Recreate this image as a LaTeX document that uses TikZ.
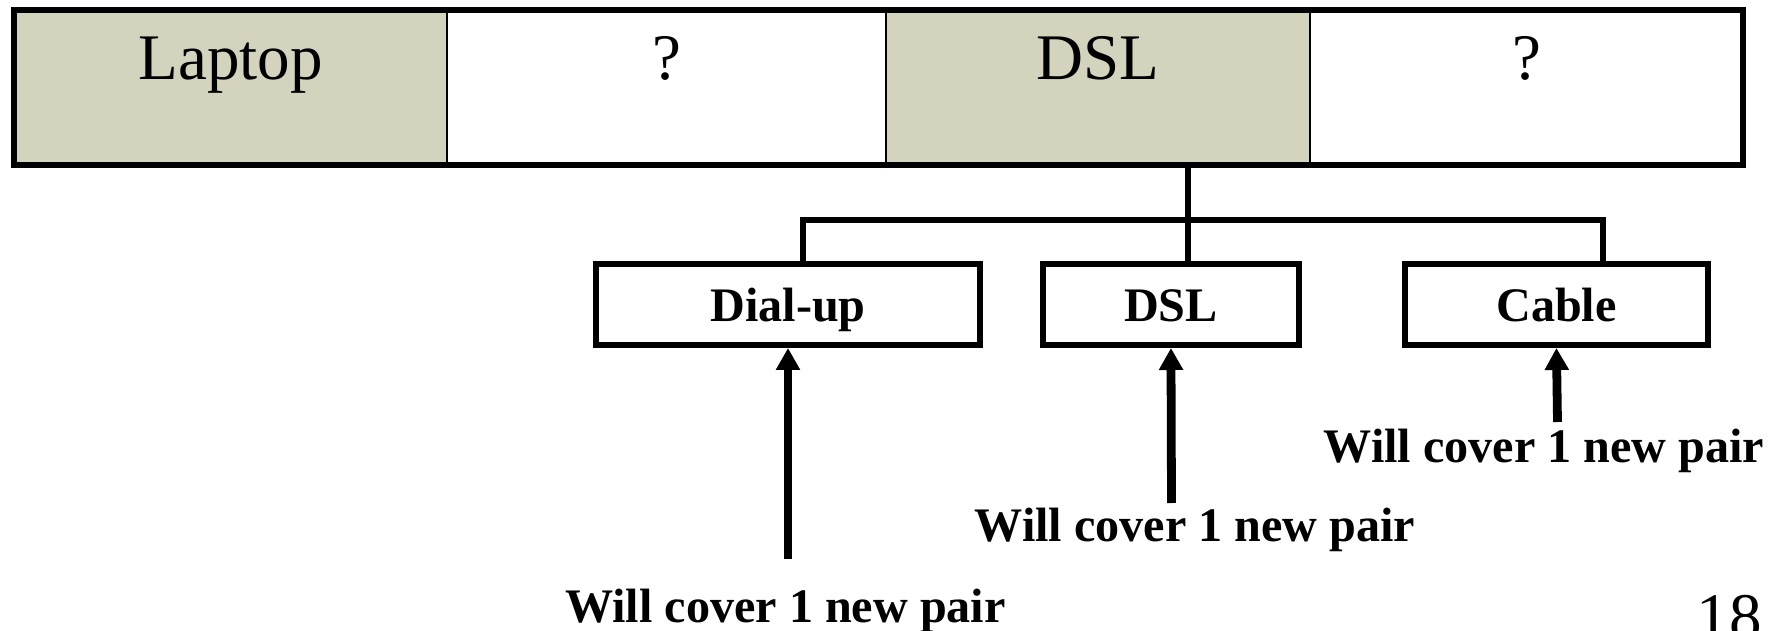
\documentclass[tikz,border=0pt]{standalone}
\usepackage{fontspec}
\setmainfont{Liberation Serif}
\usepackage{tikz}
\usetikzlibrary{arrows.meta, positioning}
\usepackage{xcolor}
\definecolor{CellTan}{RGB}{211,211,190}
\definecolor{LineBlack}{HTML}{000000}

\begin{document}
\begin{tikzpicture}[
            cell/.style={rectangle, draw=LineBlack, line width=1.6pt, outer sep=0pt, inner sep=0pt, minimum height=3.1cm, text height=0.9cm, text depth=1.2cm, align=center, font=\fontsize{37}{40}\selectfont},
            tancell/.style={cell, fill=CellTan},
            rowframe/.style={draw=LineBlack, line width=3.2pt, line join=miter},
            subbox/.style={rectangle, draw=LineBlack, fill=white, line width=3.4pt, minimum height=1.62cm, text height=0.7cm, text depth=0pt, align=center, font=\fontsize{27.4}{30}\selectfont\bfseries},
            link/.style={draw=LineBlack, line width=3.4pt},
            uparrow/.style={-{Triangle[length=0.44cm, width=0.46cm]}, line width=5pt, color=LineBlack},
            note/.style={inner sep=0pt, anchor=base, font=\fontsize{27.4}{30}\selectfont\bfseries}
        ]
            \useasboundingbox (0,0) rectangle (35.46,-12.62);

            % top row
            \node[tancell, minimum width=8.66cm, anchor=north west] (laptop) at (0.28,-0.2) {Laptop};
            \node[cell, minimum width=8.78cm, right=0pt of laptop] (slotA) {?};
            \node[tancell, minimum width=8.48cm, right=0pt of slotA] (dsltop) {DSL};
            \node[cell, minimum width=8.66cm, right=0pt of dsltop] (slotB) {?};
            \draw[rowframe] (laptop.north west) rectangle (slotB.south east);

            % choices
            \node[subbox, minimum width=7.68cm] (dialup) at (15.76,-6.09) {Dial-up};
            \node[subbox, minimum width=5.12cm, right=1.14cm of dialup] (dslbox) {DSL};
            \node[subbox, minimum width=6.06cm, right=2.0cm of dslbox] (cable) {Cable};

            \coordinate (trunk) at (23.76,-4.4);
            \coordinate (busL) at (16.06,-4.4);
            \coordinate (busR) at (32.06,-4.4);
            \draw[link] (dsltop.south -| trunk) -- (trunk |- dslbox.north);
            \draw[link] (dialup.north -| busL) |- (busR) -- (busR |- cable.north);

            % notes
            \node[note] (noteDial) at (15.71,-12.44) {Will cover 1 new pair};
            \node[note] (noteDsl) at (23.9,-10.84) {Will cover 1 new pair};
            \node[note] (noteCable) at (30.88,-9.26) {Will cover 1 new pair};
            \coordinate (tailDial) at (15.76,-11.18);
            \coordinate (tailDsl) at (23.43,-10.06);
            \coordinate (tailCable) at (31.15,-8.44);
            \draw[uparrow] (tailDial) -- (dialup.south);
            \draw[uparrow] (tailDsl) -- (dslbox.south);
            \draw[uparrow] (tailCable) -- (cable.south);

            \node[anchor=base east, inner sep=0pt, font=\fontsize{37}{40}\selectfont] (pagenum) at (35.24,-12.76) {18};
        \end{tikzpicture}
\end{document}
